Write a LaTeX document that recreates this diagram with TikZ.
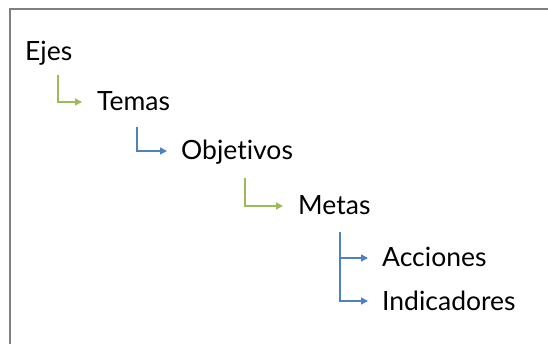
\documentclass[tikz,border=0pt]{standalone}
\usepackage{fontspec}
\setmainfont{Lato}[Ligatures={NoCommon,NoRare}]
\usetikzlibrary{arrows.meta}

\definecolor{framegray}{RGB}{128,128,128}
\definecolor{levelgreen}{RGB}{155,187,89}
\definecolor{levelblue}{RGB}{79,129,189}

\tikzset{
  level/.style={anchor=west, inner sep=0pt, text height=18pt, text depth=0pt, font=\fontsize{26.5}{30}\selectfont},
  greenlink/.style={levelgreen, line width=1.4pt, -{Triangle[length=7pt,width=7pt]}, shorten >=15pt},
  bluelink/.style={levelblue, line width=1.4pt, -{Triangle[length=7pt,width=7pt]}, shorten >=14pt}
}

\begin{document}
\begin{tikzpicture}[x=1pt, y=-1pt]

\useasboundingbox (0,0) rectangle (548,344);

% frame
\draw[framegray, line width=2pt] (10,344) -- (10,9) -- (548,9);

%level nodes
\node[level] (ejes) at (25,52) {Ejes};
\node[level] (temas) at (97,102) {Temas};
\node[level] (objetivos) at (181,151) {Objetivos};
\node[level] (metas) at (298,206) {Metas};
\node[level] (acciones) at (382,258) {Acciones};
\node[level] (indicadores) at (382,301) {Indicadores};

%corner points below each parent
\coordinate (c1) at (58,75);
\coordinate (c2) at (137,127);
\coordinate (c3) at (245,178);
\coordinate (c4) at (340,232);

%connectors
\draw[greenlink] (c1) |- (temas.west);
\draw[bluelink] (c2) |- (objetivos.west);
\draw[greenlink] (c3) |- (metas.west);

%fork to the last two levels
\draw[bluelink] (c4) |- (acciones.west);
\draw[bluelink] (c4) |- (indicadores.west);

\end{tikzpicture}
\end{document}
